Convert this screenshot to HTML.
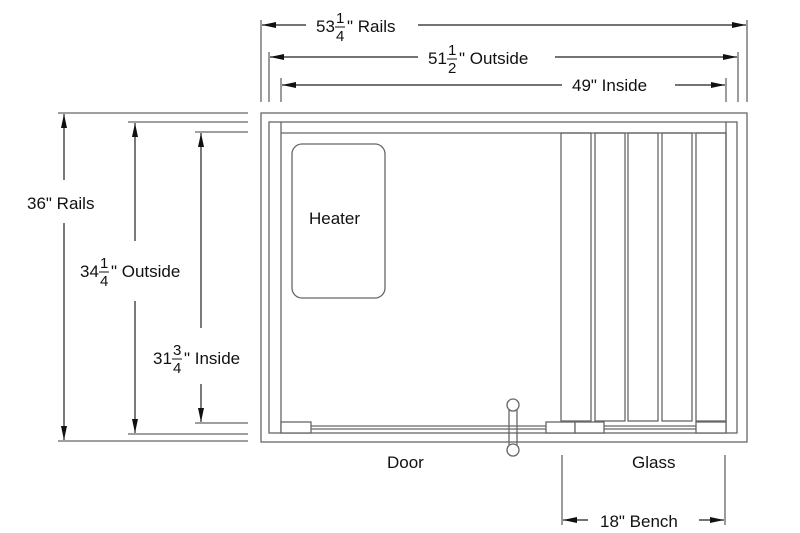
<!DOCTYPE html>
<html><head><style>
html,body{margin:0;padding:0;background:#fff;}
svg{display:block;font-family:"Liberation Sans",Arial,sans-serif;}
</style></head><body>
<svg width="800" height="533" viewBox="0 0 800 533" xmlns="http://www.w3.org/2000/svg">
<defs>
<marker id="a" viewBox="0 0 14 6" refX="14" refY="3" markerWidth="14" markerHeight="6" orient="auto-start-reverse" markerUnits="userSpaceOnUse">
<path d="M0,0 L14,3 L0,6 z" fill="#111"/></marker>
</defs>
<g stroke="#666" stroke-width="1.3" fill="none">
<line x1="261" y1="20" x2="261" y2="102"/>
<line x1="747" y1="20" x2="747" y2="102"/>
<line x1="269" y1="52" x2="269" y2="102"/>
<line x1="738" y1="52" x2="738" y2="102"/>
<line x1="281" y1="78" x2="281" y2="102"/>
<line x1="726" y1="78" x2="726" y2="102"/>
<line x1="58" y1="113" x2="248" y2="113"/>
<line x1="58" y1="441" x2="248" y2="441"/>
<line x1="128" y1="122" x2="248" y2="122"/>
<line x1="128" y1="434" x2="248" y2="434"/>
<line x1="195" y1="132" x2="248" y2="132"/>
<line x1="195" y1="423" x2="248" y2="423"/>
<line x1="562" y1="455" x2="562" y2="525"/>
<line x1="725" y1="455" x2="725" y2="525"/>
<rect x="261" y="113" width="486" height="329"/>
<rect x="269" y="122" width="468" height="311"/>
<line x1="281" y1="122" x2="281" y2="433"/>
<line x1="281" y1="133" x2="726" y2="133"/>
<line x1="726" y1="122" x2="726" y2="433"/>
<rect x="292" y="144" width="93" height="154" rx="10"/>
<rect x="561" y="133" width="30" height="288"/>
<rect x="595" y="133" width="30" height="288"/>
<rect x="628" y="133" width="30" height="288"/>
<rect x="662" y="133" width="30" height="288"/>
<rect x="696" y="133" width="30" height="288"/>
<rect x="281" y="422" width="30" height="11" fill="#fff"/>
<rect x="546" y="422" width="29" height="11" fill="#fff"/>
<rect x="575" y="422" width="29" height="11" fill="#fff"/>
<rect x="696" y="422" width="30" height="11" fill="#fff"/>
<line x1="311" y1="426" x2="546" y2="426"/>
<line x1="311" y1="429" x2="546" y2="429"/>
<line x1="604" y1="426" x2="696" y2="426"/>
<line x1="604" y1="429" x2="696" y2="429"/>
<line x1="509" y1="410" x2="509" y2="445"/>
<line x1="517" y1="410" x2="517" y2="445"/>
<circle cx="513" cy="405" r="6" fill="#fff"/>
<circle cx="513" cy="450" r="6" fill="#fff"/>
</g>
<g stroke="#222" stroke-width="1.2">
<line x1="262" y1="25" x2="306" y2="25" marker-start="url(#a)"/>
<line x1="418" y1="25" x2="746" y2="25" marker-end="url(#a)"/>
<line x1="270" y1="57" x2="418" y2="57" marker-start="url(#a)"/>
<line x1="555" y1="57" x2="737" y2="57" marker-end="url(#a)"/>
<line x1="282" y1="85" x2="562" y2="85" marker-start="url(#a)"/>
<line x1="675" y1="85" x2="725" y2="85" marker-end="url(#a)"/>
<line x1="64" y1="114" x2="64" y2="180" marker-start="url(#a)"/>
<line x1="64" y1="223" x2="64" y2="440" marker-end="url(#a)"/>
<line x1="135" y1="123" x2="135" y2="241" marker-start="url(#a)"/>
<line x1="135" y1="301" x2="135" y2="433" marker-end="url(#a)"/>
<line x1="201" y1="133" x2="201" y2="328" marker-start="url(#a)"/>
<line x1="201" y1="384" x2="201" y2="422" marker-end="url(#a)"/>
<line x1="563" y1="520" x2="588" y2="520" marker-start="url(#a)"/>
<line x1="699" y1="520" x2="724" y2="520" marker-end="url(#a)"/>
</g>
<g fill="#111" font-size="17">
<text x="316" y="32">53</text><text x="336" y="23" font-size="15">1</text><line x1="335" y1="27" x2="345" y2="27" stroke="#111"/><text x="336" y="41" font-size="15">4</text><text x="347" y="32">" Rails</text>
<text x="428" y="64">51</text><text x="448" y="55" font-size="15">1</text><line x1="447" y1="59" x2="457" y2="59" stroke="#111"/><text x="448" y="73" font-size="15">2</text><text x="459" y="64">" Outside</text>
<text x="572" y="91">49" Inside</text>
<text x="27" y="209">36" Rails</text>
<text x="80" y="277">34</text><text x="100" y="268" font-size="15">1</text><line x1="99" y1="272" x2="109" y2="272" stroke="#111"/><text x="100" y="286" font-size="15">4</text><text x="111" y="277">" Outside</text>
<text x="153" y="364">31</text><text x="173" y="355" font-size="15">3</text><line x1="172" y1="359" x2="182" y2="359" stroke="#111"/><text x="173" y="373" font-size="15">4</text><text x="184" y="364">" Inside</text>
<text x="309" y="224">Heater</text>
<text x="387" y="468">Door</text>
<text x="632" y="468">Glass</text>
<text x="600" y="527">18" Bench</text>
</g>
</svg>
</body></html>
